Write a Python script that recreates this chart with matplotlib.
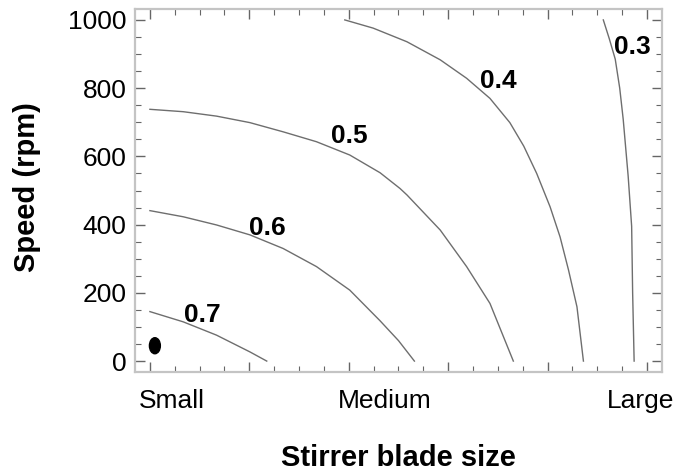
import matplotlib
matplotlib.use("Agg")
import matplotlib.pyplot as plt
from matplotlib.patches import Ellipse
from matplotlib.ticker import MultipleLocator

plt.rcParams['font.family'] = ['Liberation Sans', 'DejaVu Sans']

# Contour lines (x: blade size scale 0..10, y: speed rpm)
c07_x = [0.0, 0.67, 1.34, 2.01, 2.35]
c07_y = [145, 115, 76, 27, 0]
c06_x = [0.0, 0.67, 1.34, 2.01, 2.68, 3.35, 4.02, 4.63, 5.0, 5.32]
c06_y = [441, 423, 399, 370, 330, 277, 208, 118, 60, 0]
c05_x = [0.0, 0.67, 1.34, 2.01, 2.68, 3.35, 4.02, 4.63, 5.03, 5.17, 5.84,
         6.37, 6.84, 7.31]
c05_y = [738, 731, 718, 699, 672, 643, 604, 552, 506, 487, 384, 277, 169, 0]
c04_x = [3.92, 4.49, 5.17, 5.84, 6.37, 6.84, 7.24, 7.52, 7.78, 8.05, 8.25,
         8.42, 8.59, 8.72]
c04_y = [1000, 976, 936, 883, 829, 770, 699, 630, 550, 452, 364, 267, 159, 0]
c03_x = [9.12, 9.24, 9.36, 9.45, 9.52, 9.62, 9.69, 9.71, 9.74]
c03_y = [1000, 945, 885, 800, 709, 542, 395, 200, 0]

contour_x = [c07_x, c06_x, c05_x, c04_x, c03_x]
contour_y = [c07_y, c06_y, c05_y, c04_y, c03_y]

label_text = ['0.7', '0.6', '0.5', '0.4', '0.3']
label_x = [1.06, 2.36, 4.02, 7.0, 9.71]
label_y = [135, 391, 660, 821, 922]

# optimum point
point_x = [0.10]
point_y = [45]

cat_labels = ['Small', 'Medium', 'Large']
cat_pos = [0.44, 4.73, 9.86]

fig = plt.figure(figsize=(6.75, 4.74), dpi=100)
ax = fig.add_axes([0.2, 0.2152, 0.7807, 0.7658])

for xs, ys in zip(contour_x, contour_y):
    ax.plot(xs, ys, color='#6e6e6e', lw=1.0, solid_joinstyle='round')

for t, lx, ly in zip(label_text, label_x, label_y):
    ax.text(lx, ly, t, fontsize=19, fontweight='bold', ha='center', va='center')

for px, py in zip(point_x, point_y):
    ax.add_patch(Ellipse((px, py), width=0.22, height=47, color='black'))

ax.set_xlim(-0.3, 10.3)
ax.set_ylim(-32, 1032)

ax.xaxis.set_major_locator(MultipleLocator(2))
ax.xaxis.set_minor_locator(MultipleLocator(0.5))
ax.yaxis.set_major_locator(MultipleLocator(200))
ax.yaxis.set_minor_locator(MultipleLocator(50))
ax.set_xticklabels([])
ax.tick_params(axis='both', which='both', direction='in', top=True, right=True,
               color='#666666')
ax.tick_params(axis='both', which='major', length=7, width=1)
ax.tick_params(axis='both', which='minor', length=4.5, width=0.8)
ax.tick_params(axis='y', labelsize=19, pad=6)
ax.tick_params(axis='x', labelbottom=False)

for s in ax.spines.values():
    s.set_color('#c4c4c4')
    s.set_linewidth(1.6)

for lab, pos in zip(cat_labels, cat_pos):
    ax.text(pos, -0.08, lab, transform=ax.get_xaxis_transform(), fontsize=19,
            ha='center', va='center')

fig.text(398 / 675, 1 - 458 / 474, 'Stirrer blade size', fontsize=21,
         fontweight='bold', ha='center', va='center')
fig.text(27 / 675, 1 - 187 / 474, 'Speed (rpm)', fontsize=21, fontweight='bold',
         ha='center', va='center', rotation=90)

fig.savefig('out.png', dpi=100)
